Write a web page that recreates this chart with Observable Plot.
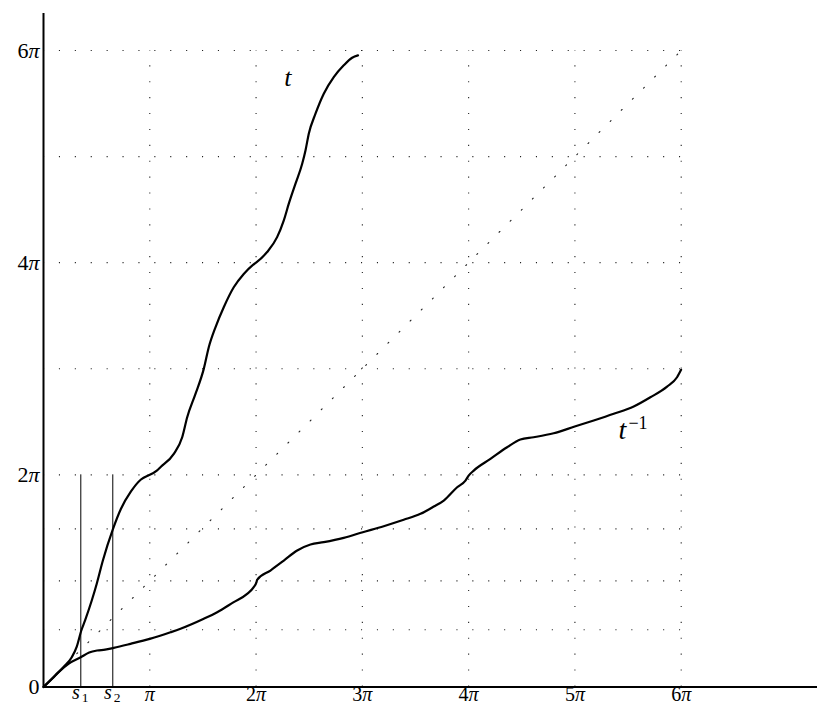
<!DOCTYPE html>
<html>
<head>
<meta charset="utf-8">
<script src="https://cdn.jsdelivr.net/npm/d3@7"></script>
<script src="https://cdn.jsdelivr.net/npm/@observablehq/plot@0.6"></script>
<style>
  html, body { margin: 0; padding: 0; background: #fff; }
  #chart svg { display: block; }
  #chart svg text { font-family: "Liberation Serif", "DejaVu Serif", serif; }
</style>
</head>
<body>
<div id="chart"></div>
<script>
// All values in units of π
const tCurve = [
  [0,0],[0.1,0.098],[0.191,0.19],[0.266,0.281],[0.313,0.38],[0.355,0.53],[0.392,0.63],
  [0.454,0.815],[0.501,0.973],[0.558,1.19],[0.654,1.49],[0.729,1.68],[0.823,1.843],
  [0.917,1.956],[0.975,1.99],[1.0,2.0],[1.066,2.04],[1.1,2.072],[1.226,2.198],[1.305,2.354],
  [1.352,2.543],[1.43,2.763],[1.508,2.999],[1.555,3.203],[1.618,3.391],[1.696,3.58],
  [1.79,3.768],[1.884,3.894],[1.963,3.973],[2.0,4.0],[2.104,4.1],[2.198,4.241],[2.261,4.399],
  [2.308,4.556],[2.371,4.745],[2.434,4.933],[2.465,5.058],[2.496,5.216],[2.559,5.404],
  [2.637,5.593],[2.731,5.749],[2.825,5.86],[2.904,5.932],[2.959,5.954]
];
const invCurve = [
  [0,0],[0.07,0.068],[0.141,0.14],[0.235,0.219],[0.35,0.28],[0.43,0.325],[0.505,0.344],
  [0.58,0.352],[0.661,0.369],[0.818,0.407],[1.0,0.454],[1.195,0.516],[1.289,0.549],
  [1.508,0.643],[1.634,0.705],[1.79,0.8],[1.916,0.878],[1.978,0.941],[2.004,0.988],
  [2.01,1.01],[2.135,1.098],[2.261,1.192],[2.387,1.287],[2.512,1.343],[2.637,1.365],
  [2.825,1.406],[3.004,1.459],[3.201,1.516],[3.389,1.576],[3.547,1.632],[3.672,1.701],
  [3.766,1.758],[3.892,1.883],[3.97,1.946],[4.0,1.993],[4.048,2.04],[4.205,2.15],
  [4.362,2.26],[4.487,2.333],[4.612,2.354],[4.8,2.392],[4.998,2.455],[5.177,2.512],
  [5.365,2.575],[5.553,2.644],[5.71,2.731],[5.867,2.832],[5.961,2.92],[5.999,2.99]
];
const diagonal = [0, 6];
const xGrid = [1, 2, 3, 4, 5, 6];
const yGrid = [0.539, 1, 1.491, 2, 3, 4, 5, 6];
const sValues = [0.351, 0.652];
const sSubs = ["1", "2"];
const xTickValues = [1, 2, 3, 4, 5, 6];
const xTickLabels = ["π", "2π", "3π", "4π", "5π", "6π"];
const yTickValues = [0, 2, 4, 6];
const yTickLabels = ["0", "2π", "4π", "6π"];
const curveLabelT = {x: 2.3, y: 5.74};
const curveLabelInv = {x: 5.447, y: 2.418};

const font = "Liberation Serif";
const dots = {stroke: "#222", strokeWidth: 1.1, strokeDasharray: "1.1,14.8"};

const chart = Plot.plot({
  width: 817,
  height: 706,
  marginLeft: 43,
  marginRight: 0,
  marginTop: 13,
  marginBottom: 19,
  style: {background: "#fff", color: "#000"},
  x: {domain: [0, 6], range: [43, 680.7], axis: null},
  y: {domain: [0, 6], range: [686.5, 50], axis: null},
  marks: [
    Plot.ruleY(yGrid, {y: d => d, x1: 0, x2: 6, ...dots}),
    Plot.ruleX(xGrid, {x: d => d, y1: 0, y2: 6, ...dots}),
    Plot.line(diagonal, {x: d => d, y: d => d, stroke: "#222", strokeWidth: 1.1, strokeDasharray: "1.1,14.6"}),
    Plot.ruleX(sValues, {x: d => d, y1: 0, y2: 2, stroke: "#000", strokeWidth: 1}),
    Plot.line(tCurve, {x: d => d[0], y: d => d[1], stroke: "#000", strokeWidth: 2.2, curve: "monotone-x"}),
    Plot.line(invCurve, {x: d => d[0], y: d => d[1], stroke: "#000", strokeWidth: 2.2, curve: "monotone-x"}),
    Plot.ruleY([0], {stroke: "#000", strokeWidth: 2}),
    Plot.ruleX([0], {stroke: "#000", strokeWidth: 2}),
    // tick labels
    Plot.text(xTickValues, {x: d => d, y: 0, text: (d, i) => xTickLabels[i], lineAnchor: "top", dy: -0.5, fontSize: 20, fontFamily: font, className: "pi-label"}),
    Plot.text(yTickValues, {x: 0, y: d => d, text: (d, i) => yTickLabels[i], dx: -4, textAnchor: "end", fontSize: 22, fontFamily: font, className: "pi-label"}),
    // s1, s2 labels
    Plot.text(sValues, {x: d => d, y: 0, text: () => "s", lineAnchor: "top", dx: -4.8, dy: -2, fontSize: 20, fontFamily: font, fontStyle: "italic"}),
    Plot.text(sValues, {x: d => d, y: 0, text: (d, i) => sSubs[i], lineAnchor: "top", dx: 4.4, dy: 5.5, fontSize: 13.5, fontFamily: font}),
    // curve labels
    Plot.text([curveLabelT], {x: "x", y: "y", text: () => "t", fontSize: 26, fontFamily: font, fontStyle: "italic"}),
    Plot.text([curveLabelInv], {x: "x", y: "y", text: () => "t", fontSize: 28, fontFamily: font, fontStyle: "italic"}),
    Plot.text([curveLabelInv], {x: "x", y: "y", text: () => "\u22121", dx: 6, dy: -7, fontSize: 18, fontFamily: font, textAnchor: "start"})
  ]
});

// make π italic as in the TeX original
d3.select(chart).selectAll("g.pi-label text").each(function() {
  const el = d3.select(this);
  const s = el.text();
  if (!s.includes("π")) return;
  el.text(null);
  const parts = s.split("π");
  parts.forEach((p, i) => {
    if (p) el.append("tspan").text(p);
    if (i < parts.length - 1) el.append("tspan").attr("font-style", "italic").text("π");
  });
});

document.getElementById("chart").appendChild(chart);
</script>
</body>
</html>
